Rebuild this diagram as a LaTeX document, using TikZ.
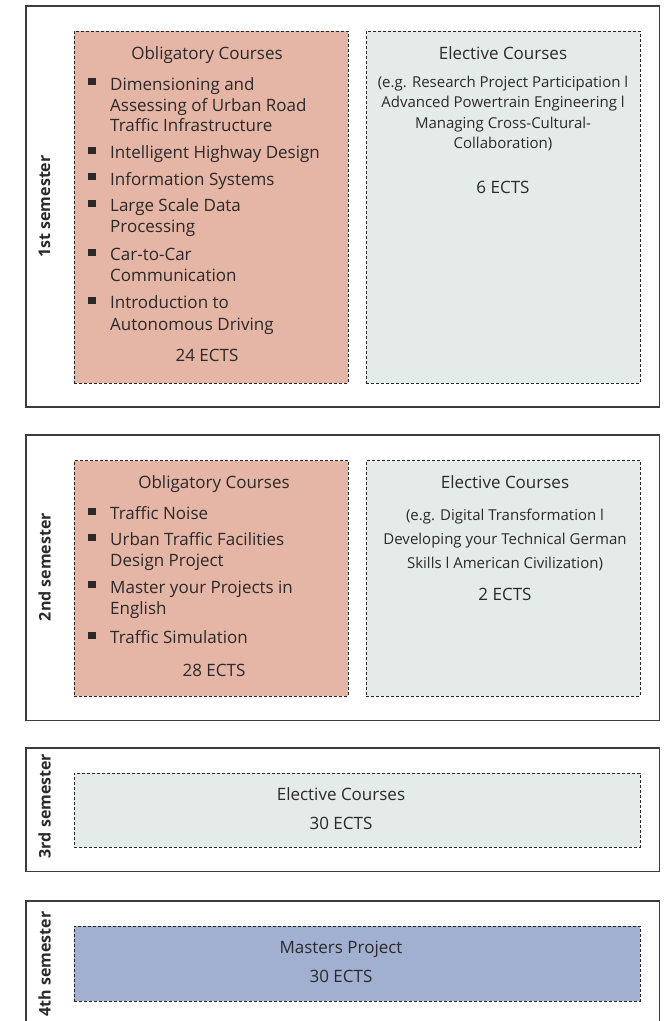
\documentclass[tikz,border=0pt]{standalone}
\usepackage{fontspec}
\setmainfont{Open Sans}
\definecolor{oblfill}{HTML}{E5B5A5}
\definecolor{elefill}{HTML}{E5EBE8}
\definecolor{mpfill}{HTML}{A1AFD0}
\definecolor{framecol}{HTML}{3C3C3C}
\definecolor{txtcol}{HTML}{2A2A2A}
\tikzset{
 semframe/.style={draw=framecol, line width=1.3pt, fill=white, inner sep=0pt},
 dbox/.style={draw=black!85, dash pattern=on 3pt off 2pt, line width=0.9pt, inner sep=0pt},
 obl/.style={dbox, fill=oblfill},
 ele/.style={dbox, fill=elefill},
 mpbox/.style={dbox, fill=mpfill},
 head/.style={font=\fontsize{17}{21}\selectfont, text=txtcol, anchor=base, inner sep=0pt},
 itm/.style={font=\fontsize{17}{21}\selectfont, text=txtcol, anchor=base west, inner sep=0pt},
 desc/.style={font=\fontsize{15}{20}\selectfont, text=txtcol, anchor=base, inner sep=0pt},
 bul/.style={fill=txtcol, minimum width=7.5pt, minimum height=7pt, inner sep=0pt, anchor=south west},
 semlab/.style={font=\fontsize{16}{20}\selectfont\bfseries, text=txtcol, rotate=90, inner sep=0pt},
}
\begin{document}
\begin{tikzpicture}[x=1pt,y=-1pt]
\useasboundingbox (0,0) rectangle (666,1021);
\clip (0,0) rectangle (666,1021);
% ---------- semester frames ----------
\node[semframe, minimum width=633.5pt, minimum height=401pt] (sem1) at (342.75,206.5) {};
\node[semframe, minimum width=633.5pt, minimum height=285.5pt] (sem2) at (342.75,577.75) {};
\node[semframe, minimum width=633.5pt, minimum height=123.5pt] (sem3) at (342.75,809.75) {};
\node[semframe, minimum width=633.5pt, minimum height=125pt] (sem4) at (342.75,963.5) {};
% ---------- course boxes ----------
\node[obl, minimum width=274pt, minimum height=352pt] (ob1) at (211,207) {};
\node[ele, minimum width=274pt, minimum height=352pt] (el1) at (503,207) {};
\node[obl, minimum width=274pt, minimum height=235.5pt] (ob2) at (211,578.25) {};
\node[ele, minimum width=274pt, minimum height=235.5pt] (el2) at (503,578.25) {};
\node[ele, minimum width=566pt, minimum height=74pt] (el3) at (357,810) {};
\node[mpbox, minimum width=566pt, minimum height=75pt] (mp4) at (357,963.5) {};
% ---------- semester labels ----------
\node[semlab] (lab1) at (44.5,206.5) {1st semester};
\node[semlab] (lab2) at (44.5,567) {2nd semester};
\node[semlab] (lab3) at (44.5,806) {3rd semester};
\node[semlab] (lab4) at (44.5,964) {4th semester};
% ---------- 1st semester ----------
\node[head] (ob1h) at (207,59.3) {Obligatory Courses};
\foreach \y/\t [count=\i] in {90/Dimensioning and, 111/Assessing of Urban Road, 131.7/Traffic Infrastructure, 158.3/Intelligent Highway Design, 185/Information Systems, 211.7/Large Scale Data, 232.7/Processing, 260.7/Car-to-Car, 281.7/Communication, 308.3/Introduction to, 330/Autonomous Driving}
  \node[itm] (ob1t\i) at (110,\y) {\t};
\foreach \y [count=\i] in {90,158.3,185,211.7,260.7,308.3}
  \node[bul] (ob1b\i) at (88,\y-4.5) {};
\node[head] (ob1e) at (207,361.7) {24 ECTS};
\node[head] (el1h) at (503,59.3) {Elective Courses};
\foreach \y/\t [count=\i] in {87.5/(e.g. Research Project Participation l, 107.7/Advanced Powertrain Engineering l, 128/Managing Cross-Cultural-, 148.3/Collaboration)}
  \node[desc] (el1t\i) at (503,\y) {\t};
\node[head] (el1e) at (503,193) {6 ECTS};
% ---------- 2nd semester ----------
\node[head] (ob2h) at (214,488.3) {Obligatory Courses};
\foreach \y/\t [count=\i] in {519.5/Traffic Noise, 545.3/Urban Traffic Facilities, 566.5/Design Project, 593/Master your Projects in, 614/English, 643.5/Traffic Simulation}
  \node[itm] (ob2t\i) at (110,\y) {\t};
\foreach \y [count=\i] in {519.5,545.3,593,643.5}
  \node[bul] (ob2b\i) at (88,\y-4.5) {};
\node[head] (ob2e) at (214,676) {28 ECTS};
\node[head] (el2h) at (505,488.3) {Elective Courses};
\foreach \y/\t [count=\i] in {520/(e.g. Digital Transformation l, 544/Developing your Technical German, 568/Skills l American Civilization)}
  \node[desc] (el2t\i) at (505,\y) {\t};
\node[head] (el2e) at (505,600) {2 ECTS};
% ---------- 3rd semester ----------
\node[head] (el3h) at (341,800.7) {Elective Courses};
\node[head] (el3e) at (341,829.3) {30 ECTS};
% ---------- 4th semester ----------
\node[head] (mp4h) at (341,953.3) {Masters Project};
\node[head] (mp4e) at (341,982.7) {30 ECTS};
\end{tikzpicture}
\end{document}
